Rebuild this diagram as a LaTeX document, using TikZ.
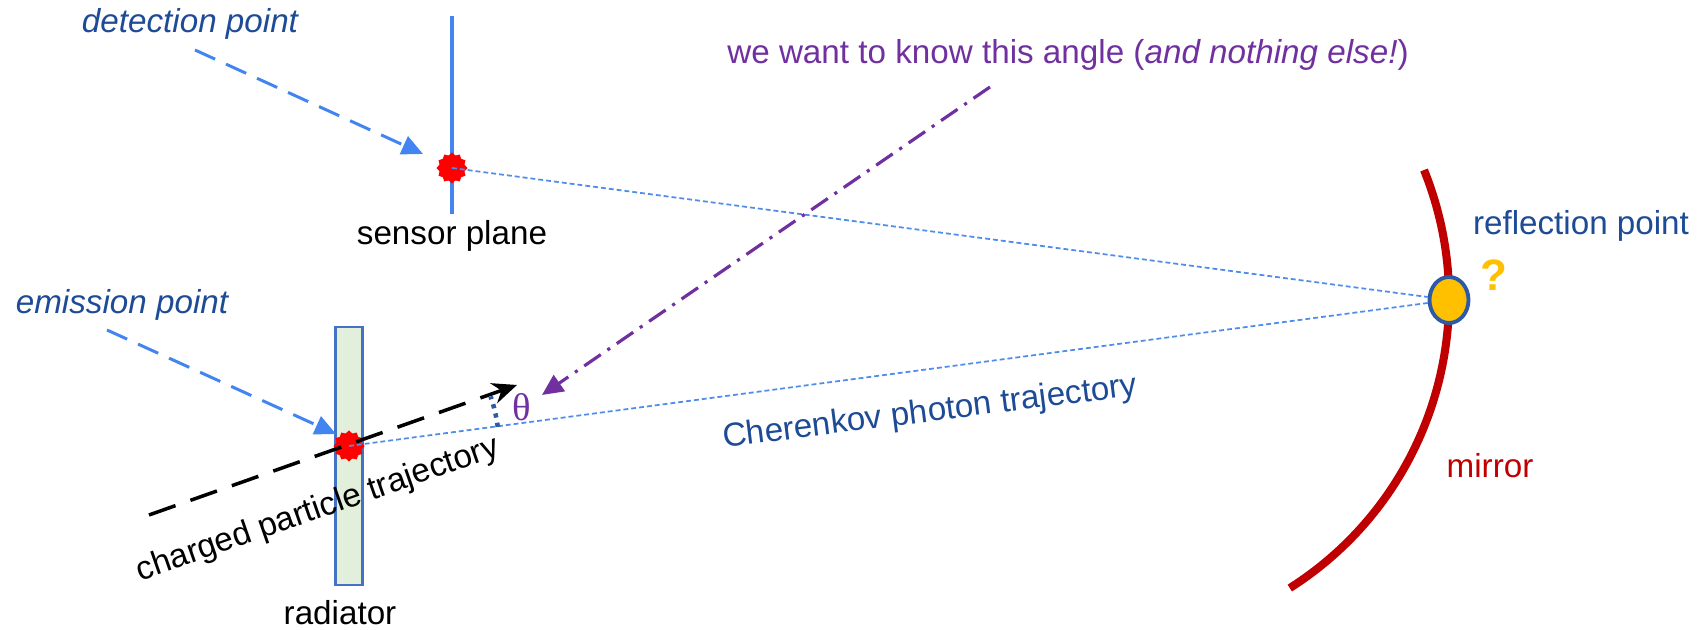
\documentclass[tikz,border=0pt]{standalone}
\usepackage{fontspec}
\setmainfont{Liberation Sans}
\newfontfamily\greekfont{Liberation Serif}
\usetikzlibrary{arrows.meta, positioning, calc, shapes.geometric}

\definecolor{ptblue}{RGB}{66,133,240}
\definecolor{lineblue}{RGB}{80,140,235}
\definecolor{textblue}{RGB}{30,75,150}
\definecolor{markblue}{RGB}{45,90,165}
\definecolor{askpurple}{RGB}{112,48,160}
\definecolor{mirrorred}{RGB}{192,0,0}
\definecolor{goldball}{RGB}{255,192,0}
\definecolor{radfill}{RGB}{226,239,218}
\definecolor{radedge}{RGB}{68,114,196}

\tikzset{
  lbl/.style={font=\fontsize{9.45}{11}\selectfont, inner sep=0pt},
  hint/.style={lbl, font=\fontsize{9.45}{11}\selectfont\itshape, textblue},
  spark/.style={star, star points=12, star point ratio=1.2, fill=red, draw=none,
    minimum size=3.1mm, inner sep=0pt},
  pointer/.style={ptblue, line width=0.85pt, dash pattern=on 6.3pt off 3.4pt,
    -{Triangle[length=6pt,width=5.5pt]}},
  photon/.style={lineblue, line width=0.5pt, dash pattern=on 1.4pt off 0.85pt},
}

\begin{document}
\begin{tikzpicture}[x=0.1mm, y=-0.1mm]
  \useasboundingbox (0,0) rectangle (1706,630);

  % sensor plane and radiator
  \coordinate (senstop) at (452,16);
  \coordinate (sensbot) at (452,214);
  \draw[ptblue, line width=0.9pt] (senstop) -- (sensbot);
  \node[lbl] (senslbl) at (452,236) {sensor plane};
  \node[draw=radedge, fill=radfill, line width=0.6pt, minimum width=2.7mm,
        minimum height=25.8mm, inner sep=0pt] (rad) at (349,456) {};
  \node[lbl] (radlbl) at (340,613) {radiator};

  % mirror with the reflection point
  \coordinate (mc) at (1106,298.5);
  \draw[mirrorred, line width=2.3pt] (mc) ++(22:34.3mm)
    arc[start angle=22, end angle=-57.6, radius=34.3mm];
  \node[ellipse, draw=markblue, fill=goldball, line width=1.1pt,
        minimum width=3.9mm, minimum height=4.6mm, inner sep=0pt] (refl) at (1449,300) {};
  \node[lbl, textblue] (refllbl) at (1581,226) {reflection point};
  \node[lbl, goldball, font=\fontsize{12.5}{14}\selectfont\bfseries] (ask) at (1494,275) {?};
  \node[lbl, mirrorred] (mirlbl) at (1490,466) {mirror};

  % emission and detection
  \node[spark] (emit) at (349,446) {};
  \node[spark] (detect) at (452,168) {};
  \draw[photon] (emit.center) -- (refl.188);
  \draw[photon] (detect.center) -- (refl.172);
  \node[lbl, textblue, rotate=7.2] (cherlbl) at (930,413) {Cherenkov photon trajectory};

  \node[hint] (detlbl) at (190,24) {detection point};
  \node[hint] (emilbl) at (122,305) {emission point};
  \coordinate (detfrom) at (195,50);
  \coordinate (emifrom) at (107,330);
  \draw[pointer] (detfrom) -- (423,154);
  \draw[pointer] (emifrom) -- (336,434);

  % charged particle and angle
  \coordinate (pin) at (149,515);
  \coordinate (pout) at (517,385);
  \draw[black, line width=1pt, dash pattern=on 8pt off 4.5pt,
        -{Stealth[length=7pt,width=6pt]}] (pin) -- (pout);
  \node[lbl, rotate=19.3] (partlbl) at (318,510) {charged particle trajectory};
  \draw[markblue, line width=1.3pt, dash pattern=on 1.2pt off 1.5pt]
    (emit.center) ++(7.3:15mm) arc[start angle=7.3, end angle=19.3, radius=15mm];
  \node[lbl, askpurple, font=\fontsize{11}{12}\selectfont\greekfont] (theta) at (522,407) {θ};

  % the question
  \node[lbl, askpurple] (asklbl) at (1068,55) {we want to know this angle (\textit{and nothing else!})};
  \coordinate (askfrom) at (990,87);
  \draw[askpurple, line width=0.9pt, dash pattern=on 5.7pt off 2.3pt on 0.9pt off 2.3pt,
        -{Triangle[length=6pt,width=5.5pt]}] (askfrom) -- (542,395);
\end{tikzpicture}
\end{document}
